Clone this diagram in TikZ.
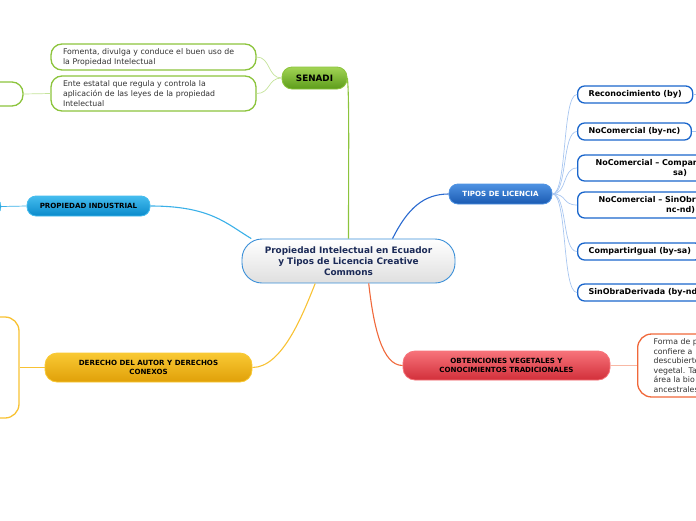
\documentclass[tikz,border=0pt]{standalone}
\usepackage{fontspec}
\setmainfont{DejaVu Sans}
\definecolor{grn}{HTML}{8CC43C}
\definecolor{grnT}{HTML}{A2D455}
\definecolor{grnB}{HTML}{5C9C1A}
\definecolor{grnL}{HTML}{C4E39A}
\definecolor{ctrB}{HTML}{3A8FD8}
\definecolor{ctrT}{HTML}{1B2A57}
\definecolor{pbT}{HTML}{45BCEE}
\definecolor{pbB}{HTML}{0A8ACB}
\definecolor{pbL}{HTML}{3AB0E8}
\definecolor{tpT}{HTML}{4E92E2}
\definecolor{tpB}{HTML}{1A5AB2}
\definecolor{tpL}{HTML}{2A6AD0}
\definecolor{licB}{HTML}{1A66CC}
\definecolor{licL}{HTML}{A8C6F0}
\definecolor{ylT}{HTML}{F9C934}
\definecolor{ylB}{HTML}{E0A008}
\definecolor{ylL}{HTML}{F8C234}
\definecolor{rdT}{HTML}{F7737A}
\definecolor{rdB}{HTML}{D22F3A}
\definecolor{rdL}{HTML}{F0683A}
\definecolor{rdLL}{HTML}{F8B8A4}
\definecolor{txt}{HTML}{333333}
\tikzset{
  pillbox/.style={draw, line width=0.8pt, align=center, inner sep=0pt,
    font=\fontsize{7.1}{8.8}\selectfont\bfseries},
  notebox/.style={draw, line width=1.3pt, fill=white, align=left, inner ysep=0pt,
    rounded corners=11pt, text=txt, font=\fontsize{7.8}{9.8}\selectfont},
  licbox/.style={draw=licB, line width=1.3pt, fill=white, rounded corners=7pt,
    align=center, inner ysep=0pt, inner xsep=11pt, minimum height=17pt,
    font=\fontsize{8}{9.8}\selectfont\bfseries, anchor=west},
  mainln/.style={line width=1.1pt},
  subln/.style={line width=0.7pt}
}
\begin{document}
\begin{tikzpicture}[x=1pt,y=-1pt]
\useasboundingbox (0,0) rectangle (696,520);
\clip (0,0) rectangle (696,520);

% center
\node[draw=ctrB, line width=0.9pt, top color=white, bottom color=gray!25,
  minimum width=213pt, minimum height=44pt, rounded corners=20pt, align=center,
  inner sep=0pt, text=ctrT, font=\fontsize{8.9}{11}\selectfont\bfseries]
  (ctr) at (348.5,261) {Propiedad Intelectual en Ecuador\\y Tipos de Licencia Creative\\Commons};

% SENADI
\node[pillbox, draw=grn, top color=grnT, bottom color=grnB, minimum width=65pt,
  minimum height=22pt, rounded corners=10pt, font=\fontsize{8.8}{10}\selectfont\bfseries]
  (sen) at (314.5,78) {SENADI};
\node[notebox, draw=grn, inner xsep=12pt, text width=181pt, minimum height=26pt]
  (s1) at (153.5,57) {Fomenta, divulga y conduce el buen uso de\\la Propiedad Intelectual};
\node[notebox, draw=grn, inner xsep=12pt, text width=181pt, minimum height=35pt]
  (s2) at (153.5,93.5) {Ente estatal que regula y controla la\\aplicación de las leyes de la propiedad\\Intelectual};
\node[draw=grn, line width=1.3pt, fill=white, rounded corners=11pt,
  minimum width=63pt, minimum height=24pt, inner sep=0pt] (s2a) at (-8.5,94) {};

% PROPIEDAD INDUSTRIAL
\node[pillbox, draw=pbT, top color=pbT, bottom color=pbB, minimum width=123pt,
  minimum height=20pt, rounded corners=9pt] (pi) at (88.5,206) {PROPIEDAD INDUSTRIAL};
\node[draw=pbT, top color=pbT, bottom color=pbB, minimum width=61pt,
  minimum height=19pt, rounded corners=9pt, inner sep=0pt] (pia) at (-29.5,206.5) {};

% DERECHO DEL AUTOR
\node[pillbox, draw=ylT, top color=ylT, bottom color=ylB, minimum width=207pt,
  minimum height=29pt, rounded corners=12pt] (da) at (148.5,367.5)
  {DERECHO DEL AUTOR Y DERECHOS\\CONEXOS};
\node[draw=ylL, line width=1.3pt, fill=white, rounded corners=14pt,
  minimum width=79pt, minimum height=101pt, inner sep=0pt] (daa) at (-20.5,367.5) {};

% TIPOS DE LICENCIA
\node[pillbox, draw=tpT, top color=tpT, bottom color=tpB, text=white, minimum width=103pt,
  minimum height=20pt, rounded corners=9pt, font=\fontsize{7.1}{8.6}\selectfont\bfseries]
  (tl) at (500.5,194) {TIPOS DE LICENCIA};
\node[licbox] (l1) at (577,94.5) {Reconocimiento (by)};
\node[licbox] (l2) at (577,131.5) {NoComercial (by-nc)};
\node[licbox, minimum height=26pt, inner xsep=18pt] (l3) at (577,168)
  {NoComercial – CompartirIgual (by-nc-\\sa)};
\node[licbox, minimum height=26pt, inner xsep=21pt] (l4) at (577,205)
  {NoComercial – SinObraDerivada (by-\\nc-nd)};
\node[licbox] (l5) at (577,251.5) {CompartirIgual (by-sa)};
\node[licbox] (l6) at (577,292.5) {SinObraDerivada (by-nd)};
\coordinate (l1x) at (705,94.5);
\coordinate (l2x) at (705,131.5);

% OBTENCIONES
\node[pillbox, draw=rdT, top color=rdT, bottom color=rdB, minimum width=207pt,
  minimum height=29pt, rounded corners=12pt] (ov) at (506.5,365.5)
  {OBTENCIONES VEGETALES Y\\CONOCIMIENTOS TRADICIONALES};
\node[notebox, draw=rdL, anchor=west, inner xsep=16pt, minimum height=63pt,
  rounded corners=14pt, font=\fontsize{7.8}{9.5}\selectfont] (ova) at (637,365.5)
  {Forma de p\\confiere a\\descubierto\\vegetal. Ta\\área la bio\\ancestrales\hspace{60pt}};

% connectors
\draw[mainln, grn] (sen.east) .. controls +(2,20) and +(0,-80) .. (ctr.north);
\draw[subln, grnL] (sen.west) .. controls +(-14,0) and +(14,0) .. (s1.east);
\draw[subln, grnL] (sen.west) .. controls +(-14,0) and +(14,0) .. (s2.east);
\draw[subln, grnL] (s2.west) -- (s2a.east);

\draw[mainln, pbL] (pi.east) .. controls +(60,0) and +(-25,-15) .. (ctr.167);
\draw[subln, pbL] (pi.west) -- (pia.east);

\draw[mainln, ylL] (da.east) .. controls +(30,0) and +(-12,30) .. (ctr.214);
\draw[subln, ylL] (da.west) -- (daa.east);

\draw[mainln, tpL] (ctr.27) .. controls +(15,-30) and +(-25,0) .. (tl.west);
\foreach \n in {l1,l2,l3,l4,l5,l6}
  \draw[subln, licL] (tl.east) .. controls +(15,0) and +(-15,0) .. (\n.west);
\draw[subln, licL] (l1.east) -- (l1x);
\draw[subln, licL] (l2.east) -- (l2x);

\draw[mainln, rdL] (ctr.-48) .. controls +(5,45) and +(-20,0) .. (ov.west);
\draw[subln, rdLL] (ov.east) -- (ova.west);
\end{tikzpicture}
\end{document}
